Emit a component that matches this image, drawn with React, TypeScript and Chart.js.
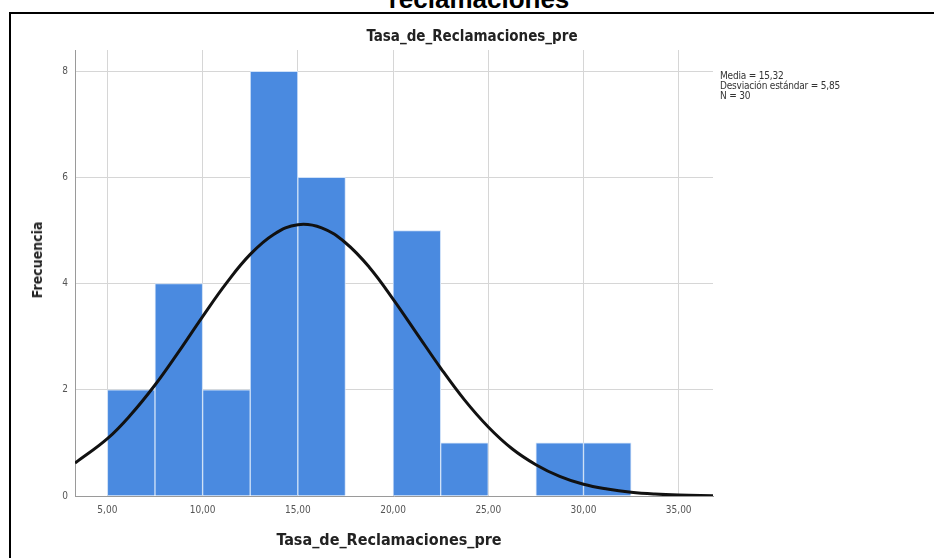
import React, { useEffect, useRef } from "react";
import { Chart, registerables } from "chart.js";

Chart.register(...registerables);

// Histogram bins (centre of each 2.5-wide bin) and frequencies
const binCenters = [6.25, 8.75, 11.25, 13.75, 16.25, 18.75, 21.25, 23.75, 26.25, 28.75, 31.25];
const frequencies = [2, 4, 2, 8, 6, 0, 5, 1, 0, 1, 1];

// Normal curve
const curveX = [3.3, 5, 6.25, 7.5, 8.75, 10, 11.25, 12.5, 13.75, 15, 16.25, 17.5, 18.75, 20, 21.25, 22.5, 23.75, 25, 26.25, 27.5, 28.75, 30, 31.25, 32.5, 33.75, 35, 36.8];
const curveY = [0.62, 1.08, 1.54, 2.09, 2.72, 3.38, 4.01, 4.55, 4.93, 5.11, 5.05, 4.77, 4.31, 3.71, 3.06, 2.41, 1.81, 1.3, 0.89, 0.59, 0.37, 0.22, 0.13, 0.07, 0.036, 0.018, 0.006];

const xMin = 3.3;
const xMax = 36.8;
const yMax = 8.4;
const xTickStep = 5;
const yTickStep = 2;

const topTitle = "reclamaciones";
const chartTitle = "Tasa_de_Reclamaciones_pre";
const xTitle = "Tasa_de_Reclamaciones_pre";
const yTitle = "Frecuencia";
const statsLines = ["Media = 15,32", "Desviación estándar = 5,85", "N = 30"];

const FONT = "'DejaVu Sans Condensed', 'Liberation Sans Narrow', 'DejaVu Sans', sans-serif";

export default function App() {
  const ref = useRef<HTMLCanvasElement | null>(null);

  useEffect(() => {
    if (!ref.current) return;
    const chart = new Chart(ref.current, {
      type: "bar",
      data: {
        datasets: [
          {
            type: "line",
            data: curveX.map((x, i) => ({ x, y: curveY[i] })),
            borderColor: "#111111",
            borderWidth: 3,
            pointRadius: 0,
            tension: 0.4,
            fill: false,
            order: 0,
          } as any,
          {
            type: "bar",
            data: binCenters.map((x, i) => ({ x, y: frequencies[i] })),
            backgroundColor: "#4a8ae0",
            borderColor: "#cfe1f8",
            borderWidth: 1,
            barPercentage: 1,
            categoryPercentage: 1,
            order: 1,
          } as any,
        ],
      },
      options: {
        responsive: false,
        animation: false,
        layout: { padding: { left: 0, top: 50, right: 221, bottom: 0 } },
        plugins: { legend: { display: false }, tooltip: { enabled: false }, title: { display: false } },
        scales: {
          x: {
            type: "linear",
            min: xMin,
            max: xMax,
            offset: false,
            grid: { color: "#d6d6d6", drawTicks: false, offset: false },
            border: { color: "#9a9a9a" },
            ticks: {
              stepSize: xTickStep,
              includeBounds: false,
              padding: 8,
              color: "#555555",
              font: { family: FONT, size: 10 },
              callback: (v: any) => Number(v).toFixed(2).replace(".", ","),
            },
            afterFit: (s: any) => {
              s.height = 62;
            },
          },
          y: {
            min: 0,
            max: yMax,
            grid: { color: "#d6d6d6", drawTicks: false },
            border: { color: "#9a9a9a" },
            ticks: {
              stepSize: yTickStep,
              includeBounds: false,
              padding: 7,
              color: "#555555",
              font: { family: FONT, size: 10 },
            },
            afterFit: (s: any) => {
              s.width = 75;
            },
          },
        },
      },
    });
    return () => chart.destroy();
  }, []);

  return (
    <div
      style={{
        position: "absolute",
        left: 0,
        top: 0,
        width: 934,
        height: 558,
        overflow: "hidden",
        background: "#ffffff",
      }}
    >
      <div
        style={{
          position: "absolute",
          left: 0,
          width: 958,
          top: -15,
          textAlign: "center",
          fontFamily: "'Liberation Sans', Arial, sans-serif",
          fontWeight: "bold",
          fontSize: 26,
          lineHeight: "29px",
          color: "#000",
        }}
      >
        {topTitle}
      </div>
      <div
        style={{
          position: "absolute",
          left: 9,
          top: 12,
          width: 960,
          height: 600,
          borderLeft: "2px solid #000",
          borderTop: "2px solid #000",
        }}
      />
      <canvas ref={ref} width={934} height={558} style={{ position: "absolute", left: 0, top: 0 }} />
      <div
        style={{
          position: "absolute",
          left: 0,
          width: 944,
          top: 27,
          textAlign: "center",
          fontFamily: FONT,
          fontWeight: "bold",
          fontSize: 15,
          lineHeight: "18px",
          color: "#222",
        }}
      >
        {chartTitle}
      </div>
      <div
        style={{
          position: "absolute",
          left: 70,
          width: 638,
          top: 530,
          textAlign: "center",
          fontFamily: FONT,
          fontWeight: "bold",
          fontSize: 16,
          lineHeight: "20px",
          color: "#222",
        }}
      >
        {xTitle}
      </div>
      <div
        style={{
          position: "absolute",
          left: 37,
          top: 260,
          transform: "translate(-50%, -50%) rotate(-90deg)",
          whiteSpace: "nowrap",
          fontFamily: FONT,
          fontWeight: "bold",
          fontSize: 14,
          lineHeight: "18px",
          color: "#222",
        }}
      >
        {yTitle}
      </div>
      <div
        style={{
          position: "absolute",
          left: 720,
          top: 71,
          fontFamily: FONT,
          fontSize: 10,
          letterSpacing: "-0.2px",
          lineHeight: "10px",
          color: "#333",
        }}
      >
        {statsLines.map((s) => (
          <div key={s}>{s}</div>
        ))}
      </div>
    </div>
  );
}
